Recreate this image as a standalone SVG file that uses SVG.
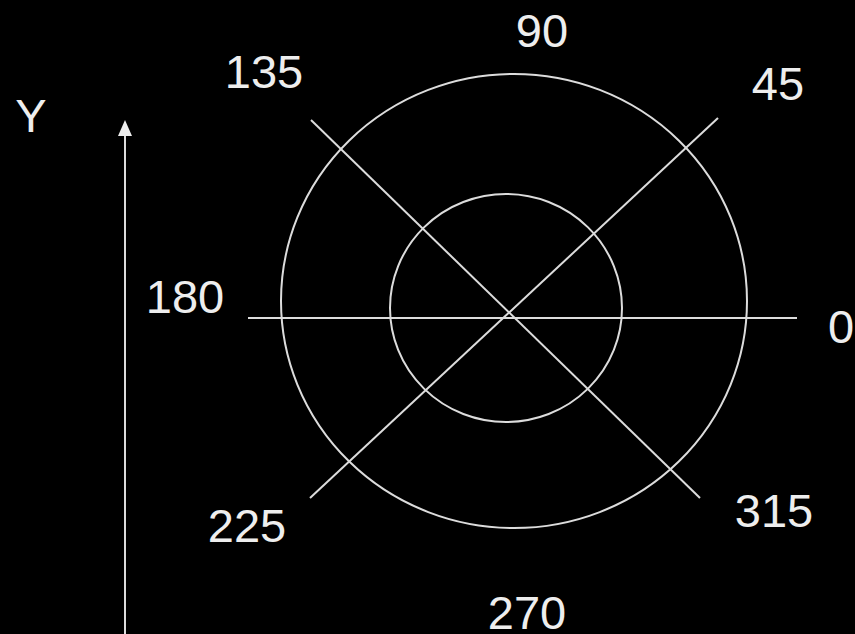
<svg xmlns="http://www.w3.org/2000/svg" width="855" height="634" viewBox="0 0 855 634">
  <style>
    .ln { stroke: #dcdcdc; stroke-width: 2; fill: none; }
    .lb { fill: #eeeeee; font-family: "Liberation Sans", Arial, sans-serif; font-size: 47px; text-anchor: middle; }
  </style>
  <defs>
    <marker id="arrow" markerWidth="14" markerHeight="16" refX="7" refY="1" orient="auto-start-reverse" markerUnits="userSpaceOnUse" viewBox="0 0 14 16">
      <path d="M0,16 L7,0 L14,16 Z" fill="#eeeeee"/>
    </marker>
  </defs>
  <rect x="0" y="0" width="855" height="634" fill="#000000"/>
  <g id="rings">
    <ellipse id="outer-ring" class="ln" cx="514" cy="301" rx="233" ry="227"/>
    <ellipse id="inner-ring" class="ln" cx="506" cy="308" rx="116" ry="114"/>
  </g>
  <g id="connectors">
    <line class="ln" x1="248" y1="318" x2="797" y2="318"/>
    <line class="ln" x1="311" y1="120" x2="700" y2="498"/>
    <line class="ln" x1="310" y1="498" x2="718" y2="118"/>
    <g id="y-axis">
      <line class="ln" x1="125" y1="634" x2="125" y2="133"/>
      <path d="M118,136 L125,120 L132,136 Z" fill="#eeeeee"/>
    </g>
  </g>
  <g id="labels">
    <text class="lb" x="31" y="132">Y</text>
    <text class="lb" x="264" y="88">135</text>
    <text class="lb" x="542" y="47">90</text>
    <text class="lb" x="778" y="100">45</text>
    <text class="lb" x="185" y="313">180</text>
    <text class="lb" x="841" y="343">0</text>
    <text class="lb" x="247" y="542">225</text>
    <text class="lb" x="527" y="629">270</text>
    <text class="lb" x="774" y="527">315</text>
  </g>
</svg>
